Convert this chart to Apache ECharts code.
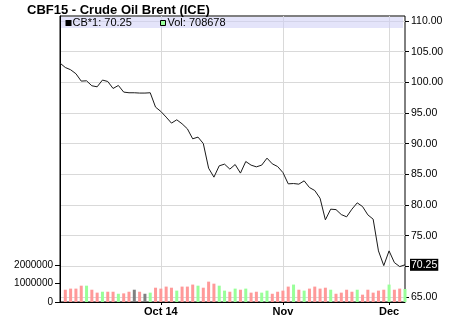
<!DOCTYPE html>
<html><head><meta charset="utf-8">
<script src="https://cdn.jsdelivr.net/npm/echarts@6/dist/echarts.min.js"></script>
<style>html,body{margin:0;padding:0;background:#fff}#c{width:450px;height:317px}</style>
</head><body><div id="c"></div>
<script>
// ---- data ----
const dates = [
 '2014-09-04','2014-09-05','2014-09-08','2014-09-09','2014-09-10','2014-09-11','2014-09-12',
 '2014-09-15','2014-09-16','2014-09-17','2014-09-18','2014-09-19',
 '2014-09-22','2014-09-23','2014-09-24','2014-09-25','2014-09-26',
 '2014-09-29','2014-09-30','2014-10-01','2014-10-02','2014-10-03',
 '2014-10-06','2014-10-07','2014-10-08','2014-10-09','2014-10-10',
 '2014-10-13','2014-10-14','2014-10-15','2014-10-16','2014-10-17',
 '2014-10-20','2014-10-21','2014-10-22','2014-10-23','2014-10-24',
 '2014-10-27','2014-10-28','2014-10-29','2014-10-30','2014-10-31',
 '2014-11-03','2014-11-04','2014-11-05','2014-11-06','2014-11-07',
 '2014-11-10','2014-11-11','2014-11-12','2014-11-13','2014-11-14',
 '2014-11-17','2014-11-18','2014-11-19','2014-11-20','2014-11-21',
 '2014-11-24','2014-11-25','2014-11-26','2014-11-27','2014-11-28',
 '2014-12-01','2014-12-02','2014-12-03','2014-12-04'
];
const closePrices = [
 103.14,102.42,102.05,101.40,100.20,100.25,99.44,
 99.27,100.37,100.14,99.00,99.49,
 98.41,98.30,98.30,98.25,98.25,
 98.30,95.96,95.25,94.33,93.35,
 93.89,93.24,92.42,90.79,91.07,
 90.02,86.00,84.54,86.39,86.66,
 85.85,86.60,85.20,87.09,86.50,
 86.22,86.50,87.64,86.71,86.27,
 85.29,83.45,83.50,83.40,83.94,
 82.85,82.36,81.10,77.58,79.32,
 79.25,78.44,78.07,79.32,80.35,
 79.75,78.39,77.69,72.52,70.12,
 72.52,70.61,69.96,70.25
];
const volumes = [
 null,670000,730000,730000,890000,890000,670000,
 510000,560000,560000,560000,450000,
 470000,560000,670000,560000,450000,
 510000,780000,730000,840000,780000,
 620000,840000,840000,950000,890000,
 780000,1110000,1000000,890000,620000,
 560000,730000,670000,730000,510000,
 560000,510000,620000,450000,560000,
 620000,840000,950000,670000,620000,
 730000,840000,730000,780000,670000,
 450000,510000,670000,560000,670000,
 400000,670000,510000,620000,670000,
 950000,670000,730000,708678
];
// u = up day, d = down day, n = unchanged
const volumeDirection = [
 null,'d','d','d','d','u','d',
 'd','u','d','d','u',
 'd','d','n','d','n',
 'u','d','d','d','d',
 'u','d','d','d','u',
 'd','d','d','u','u',
 'd','u','d','u','d',
 'd','u','u','d','d',
 'd','d','u','d','u',
 'd','d','d','d','u',
 'd','d','d','d','u',
 'd','d','d','d','d',
 'u','d','d','u'
];
const monthLabels = {'2014-10-01':'Oct 14','2014-11-03':'Nov','2014-12-01':'Dec'};
const volumeTickValues = [0, 1000000, 2000000];
const priceMin = 65, priceMax = 110, priceStep = 5;
const symbolName = 'CB*1';
// ---------------------------------------

const FONT = "'Liberation Sans', Arial, sans-serif";
const dirColor = {u:'#99ff99', d:'#ff9999', n:'#808080'};
const lastPrice = closePrices[closePrices.length-1];
const lastVol = volumes[volumes.length-1];
const isMonth = (i, v) => Object.prototype.hasOwnProperty.call(monthLabels, v);

const chart = echarts.init(document.getElementById('c'), null, {renderer:'canvas'});
chart.setOption({
  animation: false,
  backgroundColor: '#fff',
  title: {
    text: 'CBF15 - Crude Oil Brent (ICE)', left: 27, top: 4, padding: 0,
    textStyle: {fontSize: 13, fontWeight: 'bold', fontFamily: FONT, color: '#000'}
  },
  grid: [
    {left: 60, right: 45, top: 16, bottom: 15, show: true, borderColor: '#000', borderWidth: 1, backgroundColor: 'transparent'},
    {left: 60, right: 45, top: 21, bottom: 20}
  ],
  xAxis: [
    {
      gridIndex: 0, type: 'category', data: dates, boundaryGap: false,
      axisLine: {show: true, lineStyle: {color: '#000'}},
      axisTick: {show: true, interval: isMonth, length: 3, lineStyle: {color: '#000'}},
      axisLabel: {interval: isMonth, formatter: v => monthLabels[v] || '', margin: 4,
        fontSize: 11, fontWeight: 'bold', fontFamily: FONT, color: '#000'},
      splitLine: {show: true, interval: isMonth, lineStyle: {color: '#d9d9d9', width: 1}}
    },
    {gridIndex: 1, type: 'category', data: dates, boundaryGap: false, show: false}
  ],
  yAxis: [
    {
      gridIndex: 0, type: 'value', position: 'left', min: 0, max: 15600000,
      axisLine: {show: true, lineStyle: {color: '#000'}},
      axisTick: {show: true, customValues: volumeTickValues, length: 5, lineStyle: {color: '#000'}},
      axisLabel: {customValues: volumeTickValues, margin: 7, fontSize: 10, fontFamily: FONT, color: '#000',
        formatter: v => String(v)},
      splitLine: {show: false}
    },
    {
      gridIndex: 1, type: 'value', position: 'right', min: priceMin, max: priceMax, interval: priceStep,
      axisLine: {show: false},
      axisTick: {show: true, length: 4, lineStyle: {color: '#000'}},
      axisLabel: {margin: 6, fontSize: 10.5, fontFamily: FONT, color: '#000', formatter: v => v.toFixed(2)},
      splitLine: {show: true, lineStyle: {color: '#d9d9d9', width: 1}}
    }
  ],
  series: [
    {
      name: 'Vol', type: 'bar', xAxisIndex: 0, yAxisIndex: 0, barWidth: 3, clip: true,
      data: volumes.map((v, i) => v == null ? null : {value: v, itemStyle: {color: dirColor[volumeDirection[i]]}})
    },
    {
      name: symbolName, type: 'line', xAxisIndex: 1, yAxisIndex: 1, data: closePrices,
      symbol: 'none', lineStyle: {color: '#1a1a1a', width: 1},
      markLine: {
        silent: true, symbol: 'none', animation: false,
        lineStyle: {color: 'rgba(0,0,0,0)', width: 0},
        data: [{yAxis: lastPrice}],
        label: {position: 'end', distance: 5, formatter: lastPrice.toFixed(2),
          backgroundColor: '#000', color: '#fff', padding: [1, 1, 0, 1],
          fontSize: 10.5, fontFamily: FONT}
      }
    }
  ],
  graphic: [
    {type: 'rect', z: 5, shape: {x: 61, y: 17, width: 342, height: 11}, style: {fill: 'rgba(205,205,245,0.55)'}},
    {type: 'rect', z: 6, shape: {x: 65.5, y: 20, width: 6, height: 6}, style: {fill: '#000'}},
    {type: 'text', z: 6, x: 72.5, y: 23, style: {text: symbolName + ': ' + lastPrice.toFixed(2), fill: '#000',
      font: '11px ' + FONT, textVerticalAlign: 'middle'}},
    {type: 'rect', z: 6, shape: {x: 160.5, y: 20.5, width: 5, height: 5}, style: {fill: '#99ff99', stroke: '#000', lineWidth: 1}},
    {type: 'text', z: 6, x: 167.5, y: 23, style: {text: 'Vol: ' + lastVol, fill: '#000',
      font: '11px ' + FONT, textVerticalAlign: 'middle'}}
  ]
});
</script>
</body></html>
